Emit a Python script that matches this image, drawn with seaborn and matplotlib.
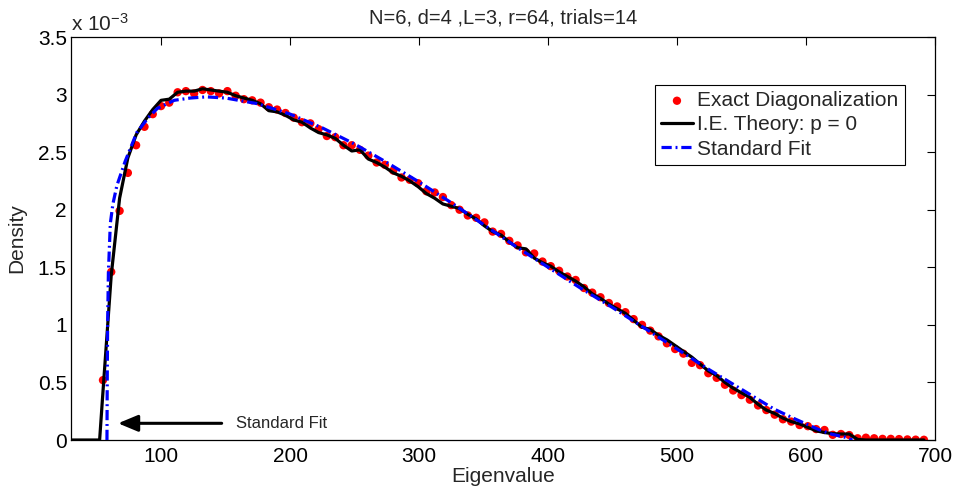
import seaborn as sns
import matplotlib.pyplot as plt

# eigenvalue bin centres of the exact diagonalization histogram
eig = [54.8, 61.2, 67.7, 74.1, 80.5, 87.0, 93.4, 99.8, 106.2, 112.7,
       119.1, 125.5, 132.0, 138.4, 144.8, 151.3, 157.7, 164.1, 170.5, 177.0,
       183.4, 189.8, 196.3, 202.7, 209.1, 215.6, 222.0, 228.4, 234.9, 241.3,
       247.7, 254.1, 260.6, 267.0, 273.4, 279.9, 286.3, 292.7, 299.2, 305.6,
       312.0, 318.4, 324.9, 331.3, 337.7, 344.2, 350.6, 357.0, 363.5, 369.9,
       376.3, 382.8, 389.2, 395.6, 402.0, 408.5, 414.9, 421.3, 427.8, 434.2,
       440.6, 447.1, 453.5, 459.9, 466.3, 472.8, 479.2, 485.6, 492.1, 498.5,
       504.9, 511.4, 517.8, 524.2, 530.7, 537.1, 543.5, 549.9, 556.4, 562.8,
       569.2, 575.7, 582.1, 588.5, 595.0, 601.4, 607.8, 614.3, 620.7, 627.1,
       633.5, 640.0, 646.4, 652.8, 659.3, 665.7, 672.1, 678.6, 685.0, 691.4]

# densities in units of 1e-3
exact_diag = [0.52, 1.46, 1.99, 2.32, 2.56, 2.72, 2.83, 2.90, 2.93, 3.02,
              3.03, 3.01, 3.04, 3.03, 3.01, 3.03, 2.99, 2.96, 2.95, 2.93,
              2.89, 2.87, 2.84, 2.80, 2.76, 2.75, 2.70, 2.64, 2.63, 2.56,
              2.56, 2.52, 2.47, 2.41, 2.39, 2.34, 2.28, 2.26, 2.23, 2.16,
              2.15, 2.11, 2.04, 2.00, 1.95, 1.93, 1.89, 1.81, 1.79, 1.73,
              1.69, 1.63, 1.62, 1.55, 1.51, 1.47, 1.42, 1.39, 1.32, 1.28,
              1.24, 1.19, 1.16, 1.11, 1.05, 1.00, 0.95, 0.90, 0.84, 0.79,
              0.75, 0.67, 0.65, 0.58, 0.54, 0.48, 0.43, 0.39, 0.35, 0.30,
              0.26, 0.22, 0.18, 0.16, 0.13, 0.12, 0.095, 0.087, 0.045, 0.052,
              0.043, 0.015, 0.02, 0.015, 0.01, 0.01, 0.008, 0.005, 0.003, 0.002]

ie_theory = [0.42, 1.43, 2.10, 2.45, 2.65, 2.77, 2.87, 2.95, 2.96, 3.02,
             3.03, 3.03, 3.05, 3.04, 3.03, 3.02, 2.99, 2.97, 2.95, 2.92,
             2.86, 2.85, 2.82, 2.78, 2.76, 2.71, 2.67, 2.65, 2.62, 2.56,
             2.51, 2.52, 2.44, 2.41, 2.37, 2.32, 2.29, 2.25, 2.20, 2.14,
             2.10, 2.05, 2.03, 2.01, 1.96, 1.92, 1.86, 1.81, 1.78, 1.72,
             1.67, 1.66, 1.58, 1.54, 1.51, 1.46, 1.42, 1.38, 1.33, 1.27,
             1.23, 1.18, 1.14, 1.10, 1.04, 0.98, 0.96, 0.91, 0.87, 0.82,
             0.77, 0.72, 0.66, 0.60, 0.56, 0.50, 0.45, 0.41, 0.37, 0.31,
             0.26, 0.23, 0.19, 0.16, 0.14, 0.11, 0.08, 0.065, 0.055, 0.052,
             0.052, 0.005, 0.0, 0.0, 0.0, 0.0, 0.0, 0.0, 0.0, 0.0]
ie_x = [30.0, 52.2] + eig
ie_y = [0.0, 0.0] + ie_theory

fit_x = [57.9, 58.1, 58.4, 59.0, 60.5, 62.5, 65.6, 72.0, 81.0, 90.0,
         97.0, 110.0, 122.5, 135.0, 150.0, 175.0, 200.0, 225.0, 250.0, 275.0,
         300.0, 325.0, 350.0, 375.0, 400.0, 425.0, 450.0, 475.0, 500.0, 525.0,
         550.0, 575.0, 590.0, 600.0, 610.0, 620.0, 630.0, 636.0]
fit_y = [0.0, 0.5, 1.0, 1.45, 1.88, 2.05, 2.21, 2.42, 2.67, 2.80,
         2.88, 2.95, 2.97, 2.98, 2.97, 2.92, 2.83, 2.71, 2.57, 2.41,
         2.24, 2.06, 1.87, 1.68, 1.50, 1.32, 1.15, 0.97, 0.79, 0.61,
         0.44, 0.27, 0.19, 0.14, 0.09, 0.05, 0.025, 0.0]

x_ticks = [100, 200, 300, 400, 500, 600, 700]
y_ticks = [0, 0.5, 1, 1.5, 2, 2.5, 3, 3.5]
y_labels = ["0", "0.5", "1", "1.5", "2", "2.5", "3", "3.5"]

sns.set_style("white")
plt.rcParams['font.family'] = ['Liberation Sans', 'DejaVu Sans']
plt.rcParams['mathtext.fontset'] = 'custom'
plt.rcParams['mathtext.rm'] = 'Liberation Sans'
plt.rcParams['mathtext.it'] = 'Liberation Sans'

fig = plt.figure(figsize=(9.58, 4.94), dpi=100)
ax = fig.add_axes([0.0741, 0.1093, 0.9019, 0.8158])

sns.scatterplot(x=eig, y=exact_diag, ax=ax, color='#ff0000', s=36,
                edgecolor='none', label='Exact Diagonalization', zorder=2)
sns.lineplot(x=ie_x, y=ie_y, ax=ax, color='black', lw=2.3, sort=False,
             label='I.E. Theory: p = 0', zorder=3)
sns.lineplot(x=fit_x, y=fit_y, ax=ax, color='#0000ff', lw=2.3, sort=False,
             linestyle=(0, (3.2, 1.2, 0.6, 1.2)), label='Standard Fit', zorder=4)

ax.set_xlim(30, 700)
ax.set_ylim(0, 3.5)
ax.set_xticks(x_ticks)
ax.set_yticks(y_ticks)
ax.set_yticklabels(y_labels)
ax.tick_params(direction='in', length=6, width=0.8, top=True, right=True,
               labelsize=15, colors='black')
ax.tick_params(axis='x', pad=5)
ax.tick_params(axis='y', pad=3)
for s in ax.spines.values():
    s.set_color('black')
    s.set_linewidth(0.9)

ax.set_xlabel("Eigenvalue", fontsize=15, labelpad=1)
ax.set_ylabel("Density", fontsize=15, labelpad=8)
ax.set_title("N=6, d=4 ,L=3, r=64, trials=14", fontsize=14.5, pad=10)
ax.text(0.0, 1.005, r"x 10$^{-3}$", transform=ax.transAxes, fontsize=15,
        ha='left', va='bottom')

ax.annotate("Standard Fit", xy=(66.5, 0.145), xytext=(158, 0.145),
            fontsize=12, ha='left', va='center',
            arrowprops=dict(arrowstyle='-|>,head_length=0.6,head_width=0.25',
                            color='black', lw=2.2, shrinkA=8, shrinkB=0,
                            mutation_scale=20))

leg = ax.legend(loc='upper right', bbox_to_anchor=(0.965, 0.881), fontsize=15,
                frameon=True, fancybox=False, edgecolor='black', framealpha=1,
                handlelength=1.55, handletextpad=0.2, borderpad=0.3,
                labelspacing=0.25, scatterpoints=1, borderaxespad=0)
leg.get_frame().set_linewidth(0.8)

fig.savefig("out.png", dpi=100)
